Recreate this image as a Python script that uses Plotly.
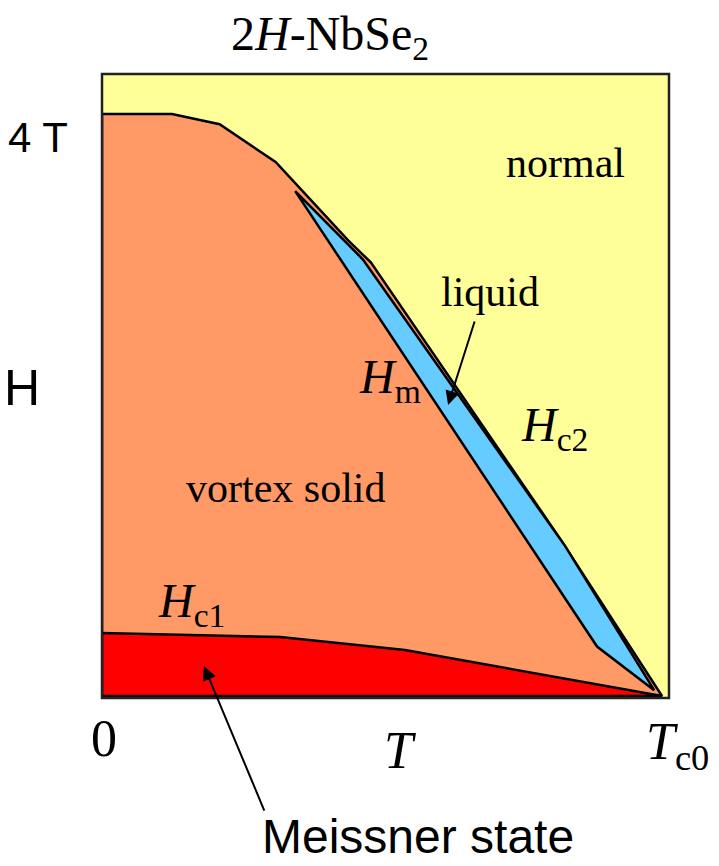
import plotly.graph_objects as go

# Reduced temperature T/Tc0 and field H (tesla) of the phase boundaries
hc2_T = [0.0, 0.125, 0.21, 0.31, 0.44, 0.48, 0.82, 1.0]
hc2_H = [4.0, 4.0, 3.93, 3.67, 3.13, 2.98, 1.07, 0.0]

# Melting line (vortex solid -> liquid) and upper edge of the liquid sliver
hm_T = [0.345, 0.884, 0.986]
hm_H = [3.47, 0.34, 0.04]
liq_top_T = [0.345, 0.466, 0.827, 0.986]
liq_top_H = [3.47, 3.00, 1.03, 0.04]

# Lower critical field
hc1_T = [0.0, 0.318, 0.541, 1.0]
hc1_H = [0.433, 0.405, 0.316, 0.0]

SERIF = "Liberation Serif"
SANS = "Liberation Sans"

fig = go.Figure()

# vortex solid: everything under Hc2
fig.add_trace(go.Scatter(
    x=[0.0] + hc2_T + [0.0], y=[0.0] + hc2_H + [0.0],
    mode="lines", fill="toself", fillcolor="#FF9966",
    line=dict(color="black", width=2.5), hoverinfo="skip"))

# vortex liquid sliver between Hm and Hc2
fig.add_trace(go.Scatter(
    x=liq_top_T + hm_T[::-1][1:], y=liq_top_H + hm_H[::-1][1:],
    mode="lines", fill="toself", fillcolor="#66CCFF",
    line=dict(color="black", width=2.5), hoverinfo="skip"))

# Meissner state under Hc1
fig.add_trace(go.Scatter(
    x=hc1_T + [0.0, 0.0], y=hc1_H + [0.0, hc1_H[0]],
    mode="lines", fill="toself", fillcolor="#FF0000",
    line=dict(color="black", width=2.5), hoverinfo="skip"))

annotations = []


def label(text, x, y, size, family=SERIF, xref="paper", yref="paper"):
    annotations.append(dict(text=text, x=x, y=y, xref=xref, yref=yref,
                            showarrow=False, xanchor="center", yanchor="middle",
                            font=dict(family=family, size=size, color="black")))


def pt(px, py):
    # pixel position in the page -> paper coordinates of the plot area
    return (px - 102) / 567, (698 - py) / 624


label("2<i>H</i>-NbSe<sub>2</sub>", *pt(330, 37), 48)
label("4 T", *pt(38, 137), 42, SANS)
label("H", *pt(22, 388), 50, SANS)
label("normal", *pt(565, 163), 42)
label("liquid", *pt(490, 292), 42)
label("<i>H</i><sub>m</sub>", *pt(390, 380), 48)
label("<i>H</i><sub>c2</sub>", *pt(554, 428), 48)
label("vortex solid", *pt(285, 488), 42)
label("<i>H</i><sub>c1</sub>", *pt(191, 604), 48)
label("0", *pt(104, 738), 52)
label("<i>T</i>", *pt(400, 750), 52)
label("<i>T</i><sub>c0</sub>", *pt(677, 745), 52)
label("Meissner state", *pt(418, 836), 48, SANS)

# arrows pointing at the liquid and Meissner regions
annotations.append(dict(x=0.618, y=2.0, xref="x", yref="y", text="",
                        showarrow=True, ax=27, ay=-85, arrowhead=2,
                        arrowsize=1.4, arrowwidth=2, arrowcolor="black"))
annotations.append(dict(x=0.182, y=0.206, xref="x", yref="y", text="",
                        showarrow=True, ax=61, ay=146, arrowhead=2,
                        arrowsize=1.4, arrowwidth=2, arrowcolor="black"))

fig.update_layout(
    width=719, height=866,
    margin=dict(l=102, r=50, t=74, b=168),
    paper_bgcolor="white", plot_bgcolor="#FFFF99",
    showlegend=False,
    annotations=annotations,
    shapes=[dict(type="rect", xref="paper", yref="paper", x0=0, y0=0, x1=1, y1=1,
                 line=dict(color="#222222", width=2.5), layer="above")],
)
fig.update_xaxes(range=[0, 567 / 560], visible=False, fixedrange=True)
fig.update_yaxes(range=[-2 / 145.5, 622 / 145.5], visible=False, fixedrange=True)

fig.write_html("out.html")
